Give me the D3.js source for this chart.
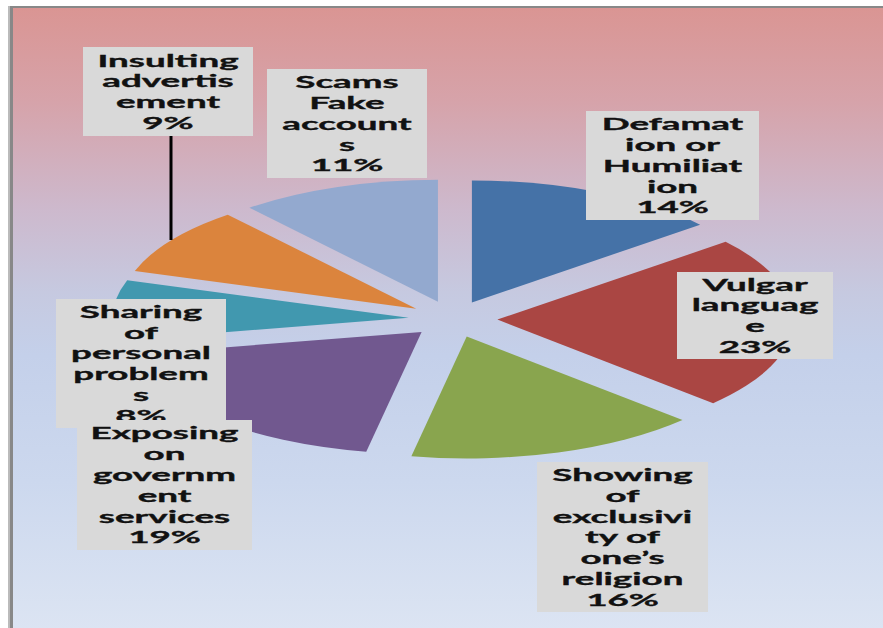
<!DOCTYPE html>
<html>
<head>
<meta charset="utf-8">
<script src="https://cdn.jsdelivr.net/npm/d3@7"></script>
<style>
  html, body { margin: 0; padding: 0; background: #fff; }
  svg { display: block; }
</style>
</head>
<body>
<div id="chart"></div>
<script>
// categories in clockwise order starting at 12 o'clock
const categories = [
  "Defamation or Humiliation",
  "Vulgar language",
  "Showing of exclusivity of one’s religion",
  "Exposing on government services",
  "Sharing of personal problems",
  "Insulting advertisement",
  "Scams Fake accounts"
];
const values = [14, 23, 16, 19, 8, 9, 11];
// label text as wrapped in the original
const labelLines = [
  ["Defamat", "ion or", "Humiliat", "ion", "14%"],
  ["Vulgar", "languag", "e", "23%"],
  ["Showing", "of", "exclusivi", "ty of", "one’s", "religion", "16%"],
  ["Exposing", "on", "governm", "ent", "services", "19%"],
  ["Sharing", "of", "personal", "problem", "s", "8%"],
  ["Insulting", "advertis", "ement", "9%"],
  ["Scams", "Fake", "account", "s", "11%"]
];
const colors = ["#4572A7", "#AA4643", "#89A54E", "#71588F", "#4198AF", "#DB843D", "#93A9CF"];

// label box layout [x0, y0, x1, y1]
const boxes = [
  [586, 111, 759, 220],
  [677, 272, 833, 359],
  [537, 462, 708, 612],
  [77, 420, 252, 550],
  [56, 299, 226, 428],
  [83, 47, 253, 136],
  [267, 69, 427, 178]
];
const drawOrder = [0, 1, 2, 4, 3, 5, 6];

const width = 883, height = 628;
const cx = 453, cy = 319, rx = 296, ry = 122, explode = 0.15;
const textScaleX = 2.1, lineH = 20.8;

const svg = d3.select("#chart").append("svg")
  .attr("width", width)
  .attr("height", height);

const defs = svg.append("defs");
const grad = defs.append("linearGradient")
  .attr("id", "bg")
  .attr("gradientUnits", "userSpaceOnUse")
  .attr("x1", 0).attr("y1", 7).attr("x2", 0).attr("y2", 640);
[[0, "#DA9593"], [0.15, "#D6A3AA"], [0.32, "#CDB9CD"], [0.45, "#C6C9E0"], [0.55, "#C4D0EA"], [0.75, "#CCD8EE"], [1, "#DDE5F3"]]
  .forEach(([o, c]) => grad.append("stop").attr("offset", o).attr("stop-color", c));

// plot frame
svg.append("rect").attr("x", 8).attr("y", 6).attr("width", width).attr("height", height)
  .attr("fill", "#bbb");
svg.append("rect").attr("x", 10).attr("y", 6).attr("width", width).attr("height", height)
  .attr("fill", "#888");
svg.append("rect").attr("x", 13).attr("y", 8).attr("width", width).attr("height", height)
  .attr("fill", "url(#bg)");

// pie (drawn on unit radius, stretched into an ellipse)
const pie = d3.pie().sort(null).value(d => d);
const arcs = pie(values);
const arc = d3.arc().innerRadius(0).outerRadius(1);
const mid = d3.arc().innerRadius(1).outerRadius(1);

const pieG = svg.append("g").attr("transform", `translate(${cx},${cy})`);
pieG.selectAll("g.slice")
  .data(arcs)
  .enter()
  .append("g")
    .attr("class", "slice")
    .attr("transform", d => {
      const [mx, my] = mid.centroid(d);
      return `translate(${mx * explode * rx},${my * explode * ry}) scale(${rx},${ry})`;
    })
  .append("path")
    .attr("d", arc)
    .attr("fill", (d, i) => colors[i]);

// leader line for Insulting advertisement
svg.append("line")
  .attr("x1", 171).attr("y1", boxes[5][3])
  .attr("x2", 171).attr("y2", 240)
  .attr("stroke", "#000")
  .attr("stroke-width", 3);

// labels
const labG = svg.append("g");
drawOrder.forEach(i => {
  const [x0, y0, x1, y1] = boxes[i];
  const g = labG.append("g");
  g.append("rect")
    .attr("x", x0).attr("y", y0)
    .attr("width", x1 - x0).attr("height", y1 - y0)
    .attr("fill", "#D9D9D9");
  const lines = labelLines[i];
  const mxx = (x0 + x1) / 2, myy = (y0 + y1) / 2;
  lines.forEach((t, k) => {
    const ly = myy + (k - (lines.length - 1) / 2) * lineH;
    g.append("text")
      .attr("transform", `translate(${mxx},${ly}) scale(${textScaleX},1)`)
      .attr("text-anchor", "middle")
      .attr("dy", "0.36em")
      .style("font-family", "Lato, 'Open Sans', sans-serif")
      .style("font-weight", "bold")
      .style("font-size", "17.5px")
      .style("fill", "#111")
      .style("stroke", "#111")
      .style("stroke-width", 0.35)
      .text(t);
  });
});
</script>
</body>
</html>
